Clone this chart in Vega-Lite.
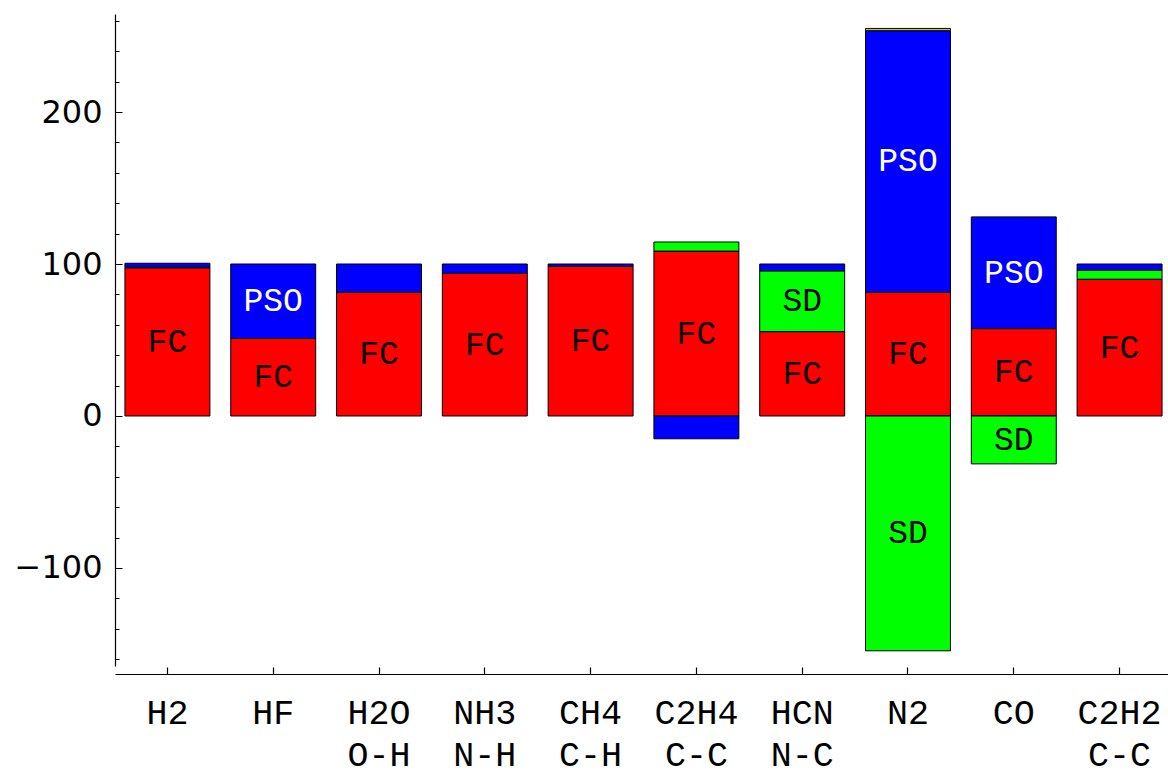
{
  "$schema": "https://vega.github.io/schema/vega-lite/v6.json",
  "autosize": "none",
  "padding": {"left": 115, "top": 14, "right": 0, "bottom": 104},
  "width": 1057,
  "height": 652,
  "background": "white",
  "config": {"view": {"stroke": null}, "axis": {"labelOverlap": false}},
  "data": {
    "values": [
      {"mol": "H2", "term": "FC", "value": 97.5},
      {"mol": "H2", "term": "SD", "value": 0.5},
      {"mol": "H2", "term": "PSO", "value": 2.5},
      {"mol": "HF", "term": "FC", "value": 51},
      {"mol": "HF", "term": "PSO", "value": 49},
      {"mol": "H2O O-H", "term": "FC", "value": 81.5},
      {"mol": "H2O O-H", "term": "PSO", "value": 18.5},
      {"mol": "NH3 N-H", "term": "FC", "value": 94},
      {"mol": "NH3 N-H", "term": "PSO", "value": 6},
      {"mol": "CH4 C-H", "term": "FC", "value": 98.5},
      {"mol": "CH4 C-H", "term": "PSO", "value": 1.5},
      {"mol": "C2H4 C-C", "term": "FC", "value": 108.5},
      {"mol": "C2H4 C-C", "term": "SD", "value": 6},
      {"mol": "C2H4 C-C", "term": "PSO", "value": -15},
      {"mol": "HCN N-C", "term": "FC", "value": 55.5},
      {"mol": "HCN N-C", "term": "SD", "value": 40},
      {"mol": "HCN N-C", "term": "PSO", "value": 4.5},
      {"mol": "N2", "term": "FC", "value": 81.5},
      {"mol": "N2", "term": "SD", "value": -154.5},
      {"mol": "N2", "term": "PSO", "value": 172},
      {"mol": "N2", "term": "DSO", "value": 1.5},
      {"mol": "CO", "term": "FC", "value": 57.5},
      {"mol": "CO", "term": "SD", "value": -31.5},
      {"mol": "CO", "term": "PSO", "value": 73.5},
      {"mol": "C2H2 C-C", "term": "FC", "value": 90},
      {"mol": "C2H2 C-C", "term": "SD", "value": 6},
      {"mol": "C2H2 C-C", "term": "PSO", "value": 4}
    ]
  },
  "transform": [
    {"calculate": "indexof(['FC','SD','PSO','DSO'], datum.term)", "as": "ord"},
    {"stack": "value", "groupby": ["mol"], "sort": [{"field": "ord", "order": "ascending"}], "as": ["v0", "v1"], "offset": "zero"},
    {"calculate": "(datum.v0 + datum.v1) / 2", "as": "mid"}
  ],
  "encoding": {
    "x": {
      "field": "mol",
      "type": "nominal",
      "sort": null,
      "scale": {"paddingInner": 0.197, "paddingOuter": 0.094},
      "axis": {
        "title": null,
        "orient": "bottom",
        "offset": 8,
        "domainColor": "black",
        "domainWidth": 1.2,
        "tickColor": "black",
        "tickWidth": 1.2,
        "tickSize": -7,
        "labelAngle": 0,
        "labelFont": "Courier New, Liberation Mono, monospace",
        "labelFontSize": 35,
        "labelColor": "black",
        "labelBaseline": "alphabetic",
        "labelLineHeight": 42,
        "labelPadding": 56,
        "labelOverlap": false,
        "labelExpr": "split(datum.label, ' ')"
      }
    }
  },
  "layer": [
    {
      "mark": {"type": "bar", "stroke": "black", "strokeWidth": 1},
      "encoding": {
        "y": {
          "field": "v1",
          "type": "quantitative",
          "scale": {"domain": [-164.5, 264.5], "nice": false, "zero": false},
          "axis": {
            "title": null,
            "grid": false,
            "values": [-160, -140, -120, -100, -80, -60, -40, -20, 0, 20, 40, 60, 80, 100, 120, 140, 160, 180, 200, 220, 240, 260],
            "labelExpr": "datum.value % 100 === 0 ? datum.label : ''",
            "labelOverlap": false,
            "labelBound": false,
            "domainColor": "black",
            "domainWidth": 1.2,
            "tickColor": "black",
            "tickWidth": 1,
            "tickSize": {"condition": {"test": "datum.value % 100 === 0", "value": -7}, "value": -4},
            "labelFont": "DejaVu Sans",
            "labelFontSize": 32,
            "labelColor": "black",
            "labelPadding": 20
          }
        },
        "y2": {"field": "v0"},
        "color": {
          "field": "term",
          "type": "nominal",
          "scale": {"domain": ["FC", "SD", "PSO", "DSO"], "range": ["#ff0000", "#00ff00", "#0000ff", "#cccc00"]},
          "legend": null
        }
      }
    },
    {
      "transform": [{"filter": "abs(datum.value) >= 25"}],
      "mark": {"type": "text", "font": "Courier New, Liberation Mono, monospace", "fontSize": 33, "baseline": "middle", "align": "center"},
      "encoding": {
        "y": {
          "field": "mid",
          "type": "quantitative",
          "axis": {
            "title": null,
            "grid": false,
            "values": [-160, -140, -120, -100, -80, -60, -40, -20, 0, 20, 40, 60, 80, 100, 120, 140, 160, 180, 200, 220, 240, 260],
            "labelExpr": "datum.value % 100 === 0 ? datum.label : ''",
            "labelOverlap": false,
            "labelBound": false,
            "domainColor": "black",
            "domainWidth": 1.2,
            "tickColor": "black",
            "tickWidth": 1,
            "tickSize": {"condition": {"test": "datum.value % 100 === 0", "value": -7}, "value": -4},
            "labelFont": "DejaVu Sans",
            "labelFontSize": 32,
            "labelColor": "black",
            "labelPadding": 20
          }
        },
        "text": {"field": "term"},
        "color": {"condition": {"test": "datum.term === 'PSO'", "value": "white"}, "value": "black"}
      }
    }
  ]
}
